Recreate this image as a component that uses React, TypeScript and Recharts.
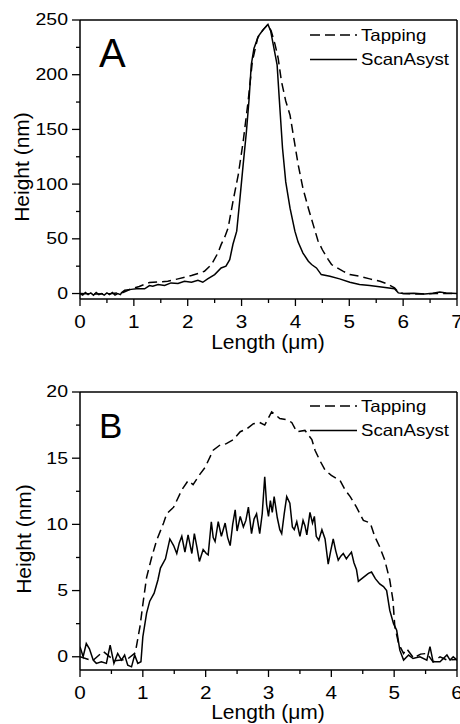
import React from "react";
import { LineChart, Line, XAxis, YAxis, ReferenceLine } from "recharts";

const FONT = '"Liberation Sans", Arial, Helvetica, sans-serif';

// ---- Panel A (0-7 um) ----
const tapAx = [0, 0.3, 0.6, 0.8, 0.95, 1.1, 1.29, 1.45, 1.63, 1.82, 2.07, 2.31, 2.44, 2.56, 2.62, 2.69, 2.75, 2.84, 2.94, 3.03, 3.12, 3.2, 3.3, 3.4, 3.49, 3.55, 3.62, 3.68, 3.74, 3.82, 3.9, 3.98, 4.05, 4.14, 4.24, 4.33, 4.42, 4.5, 4.61, 4.67, 4.89, 5.01, 5.19, 5.38, 5.57, 5.69, 5.84, 5.91, 6.0, 6.3, 6.6, 7.0];
const tapAy = [0, -0.5, 0, 1, 4.3, 6.5, 10, 10.5, 11.2, 13.4, 16.4, 20.3, 26.4, 37, 44.7, 52, 60, 84, 109, 139, 175, 212, 234, 241, 246, 240, 228, 215, 194, 176, 163, 139, 118, 96, 78, 63, 48, 40, 31, 26.5, 20.3, 17.3, 15.8, 13.4, 11.2, 9.1, 5.2, 1.2, 0, -0.5, 0, 0];

const scanAx = [0, 0.05, 0.1, 0.15, 0.2, 0.25, 0.3, 0.35, 0.4, 0.45, 0.5, 0.55, 0.6, 0.65, 0.7, 0.75, 0.77, 0.83, 0.95, 1.05, 1.2, 1.29, 1.35, 1.45, 1.57, 1.69, 1.82, 1.94, 2.07, 2.19, 2.28, 2.37, 2.5, 2.62, 2.71, 2.78, 2.84, 2.91, 2.97, 3.03, 3.09, 3.14, 3.18, 3.23, 3.31, 3.4, 3.49, 3.54, 3.59, 3.66, 3.7, 3.76, 3.82, 3.9, 3.99, 4.05, 4.14, 4.24, 4.3, 4.39, 4.48, 4.64, 4.82, 5.01, 5.19, 5.38, 5.63, 5.84, 5.91, 6.0, 6.2, 6.4, 6.55, 6.68, 6.8, 7.0];
const scanAy = [0, -1.5, 1, -1, 0.5, -1.5, 1, -1, 0, -1.5, 0.5, -1, 1, -1.5, 0, -1, 0.6, 3, 3.8, 4.3, 4.3, 7.3, 6.7, 8.2, 7.3, 9.7, 9.1, 11.2, 10.3, 12.1, 10.3, 13.4, 17.3, 23.4, 25, 31, 45, 57, 87, 118, 148, 178, 209, 224, 235, 241, 246, 240, 227, 209, 178, 133, 102, 78, 57, 47, 37, 29.5, 26.5, 23.4, 17.3, 15.8, 13.4, 10.3, 8.2, 7.3, 5.8, 4.3, 0.6, 0, 0.3, -0.5, 0.3, 1.5, 0.5, 0];

const xTicksA = [0, 0.5, 1, 1.5, 2, 2.5, 3, 3.5, 4, 4.5, 5, 5.5, 6, 6.5, 7];
const yTicksA = [0, 25, 50, 75, 100, 125, 150, 175, 200, 225, 250];

// ---- Panel B (0-6 um) ----
const tapBx = [0, 0.2, 0.37, 0.55, 0.75, 0.88, 0.955, 1.01, 1.06, 1.14, 1.22, 1.33, 1.38, 1.49, 1.62, 1.72, 1.8, 1.91, 1.99, 2.12, 2.23, 2.33, 2.44, 2.55, 2.65, 2.76, 2.86, 2.94, 3.05, 3.18, 3.29, 3.37, 3.45, 3.58, 3.69, 3.74, 3.82, 3.9, 4.0, 4.14, 4.22, 4.3, 4.4, 4.51, 4.62, 4.69, 4.77, 4.85, 4.93, 4.98, 5.01, 5.07, 5.15, 5.2, 5.31, 5.42, 5.52, 5.62, 5.73, 5.84, 6.0];
const tapBy = [0, -0.3, 0.4, -0.3, -0.2, 0.3, 2.3, 4.3, 6.0, 7.5, 8.8, 10.1, 10.8, 11.3, 12.6, 13.3, 13.0, 13.8, 14.3, 15.6, 16.0, 16.1, 16.4, 17.0, 17.2, 17.6, 17.7, 17.5, 18.5, 18.0, 17.9, 17.7, 17.0, 17.1, 16.4, 15.6, 14.8, 14.1, 13.7, 13.3, 12.6, 12.1, 11.3, 10.3, 10.1, 9.1, 8.3, 7.3, 5.8, 4.3, 2.3, 1.0, 0.25, 0.6, -0.1, 0.2, 0.25, -0.4, 0, -0.25, -0.2];

const scanBx = [0, 0.05, 0.1, 0.15, 0.21, 0.26, 0.34, 0.42, 0.48, 0.54, 0.6, 0.66, 0.71, 0.76, 0.82, 0.87, 0.92, 0.97, 1.0, 1.06, 1.11, 1.18, 1.24, 1.28,
  1.36, 1.43, 1.49, 1.54, 1.58, 1.62, 1.67, 1.72, 1.78, 1.82, 1.86, 1.9, 1.96, 2.01, 2.04, 2.09, 2.12, 2.15, 2.2, 2.25, 2.31, 2.35, 2.39, 2.43, 2.47, 2.5, 2.55, 2.6, 2.64, 2.68, 2.73, 2.77, 2.81, 2.86, 2.9, 2.94, 2.97, 3.0, 3.03, 3.06, 3.09, 3.14, 3.18, 3.21, 3.25, 3.29, 3.34, 3.38, 3.41, 3.45, 3.5, 3.55, 3.58, 3.61, 3.66, 3.7, 3.73, 3.76, 3.8, 3.85, 3.9, 3.95, 3.99, 4.03, 4.07, 4.11, 4.15, 4.19, 4.24, 4.27, 4.32, 4.36, 4.4, 4.43,
  4.51, 4.59, 4.64, 4.7, 4.77, 4.83, 4.88, 4.93, 4.99, 5.04, 5.09, 5.15, 5.23, 5.3, 5.41, 5.52, 5.57, 5.62, 5.73, 5.84, 5.89, 5.94, 6.0];
const scanBy = [0.76, 0, 1.0, 0.6, -0.25, -0.5, -0.38, -0.5, 0.88, -0.5, 0.25, -0.25, 0.13, -0.63, -0.76, 0.13, -0.5, -0.38, 1.5, 3.3, 4.2, 4.8, 5.8, 6.7,
  7.4, 8.9, 8.4, 7.8, 8.6, 9.1, 7.9, 9.2, 7.8, 9.3, 8.3, 7.2, 8.1, 7.8, 7.7, 10.2, 9.0, 8.7, 10.2, 9.1, 10.1, 9.0, 8.4, 10.0, 11.1, 9.5, 10.6, 9.8, 10.3, 11.3, 9.3, 10.4, 10.8, 9.3, 10.8, 13.6, 11.5, 10.6, 11.8, 10.9, 12.1, 10.5, 9.6, 9.3, 10.8, 12.1, 11.6, 9.8, 9.6, 10.2, 9.1, 10.3, 9.9, 9.2, 10.9, 10.1, 10.6, 9.1, 8.8, 9.6, 8.9, 7.0, 8.0, 8.9, 8.0, 7.3, 7.6, 7.8, 7.4, 7.6, 7.9, 7.1, 6.6, 5.7,
  6.0, 6.3, 6.4, 5.9, 5.5, 5.3, 5.0, 3.5, 2.5, 2.0, 0.5, -0.25, 0.13, -0.13, 0, -0.25, 0.76, -0.38, -0.38, 0.13, -0.25, 0, -0.25];

const xTicksB = [0, 0.5, 1, 1.5, 2, 2.5, 3, 3.5, 4, 4.5, 5, 5.5, 6];
const yTicksB = [0, 2.5, 5, 7.5, 10, 12.5, 15, 17.5, 20];

const toPts = (xs: number[], ys: number[]) => xs.map((x, i) => ({ x, y: ys[i] }));

const XTick = (props: any) => {
  const { x, y, payload } = props;
  const major = payload.value % 1 === 0;
  return (
    <g>
      <line x1={x} x2={x} y1={y} y2={y + (major ? 7 : 4)} stroke="#000" strokeWidth={1.3} />
      {major && (
        <text
          transform={`translate(${x},${y + 29}) scale(1.15,1)`}
          textAnchor="middle"
          fontSize={18}
          fontFamily={FONT}
          fill="#000"
        >
          {payload.value}
        </text>
      )}
    </g>
  );
};

const makeYTick = (step: number) => (props: any) => {
  const { x, y, payload } = props;
  const major = payload.value % step === 0;
  return (
    <g>
      <line x1={x - (major ? 8 : 4)} x2={x} y1={y} y2={y} stroke="#000" strokeWidth={1.3} />
      {major && (
        <text
          transform={`translate(${x - 12},${y}) scale(1.18,1)`}
          textAnchor="end"
          dominantBaseline="central"
          fontSize={16.5}
          fontFamily={FONT}
          fill="#000"
        >
          {payload.value}
        </text>
      )}
    </g>
  );
};

interface PanelProps {
  letter: string;
  letterSize: number;
  height: number;
  top: number;
  plotTop: number;
  xMax: number;
  yDomain: [number, number];
  xTicks: number[];
  yTicks: number[];
  yStep: number;
  tapping: { x: number; y: number }[];
  scan: { x: number; y: number }[];
  letterY: number;
  legendY: number;
  ylabelX: number;
  ylabelY: number;
  xlabelY: number;
  xAxisH: number;
}

function Panel(p: PanelProps) {
  const axisStyle = { stroke: "#000", strokeWidth: 1.5 };
  return (
    <div style={{ position: "absolute", left: 0, top: p.top, width: 460, height: p.height }}>
      <LineChart width={460} height={p.height} margin={{ top: p.plotTop, right: 3, left: 0, bottom: 0 }}>
        <XAxis
          type="number"
          dataKey="x"
          domain={[0, p.xMax]}
          ticks={p.xTicks}
          interval={0}
          allowDataOverflow
          height={p.xAxisH}
          tickSize={0}
          tickMargin={0}
          tickLine={false}
          axisLine={axisStyle}
          tick={XTick}
        />
        <YAxis
          type="number"
          dataKey="y"
          domain={p.yDomain}
          ticks={p.yTicks}
          interval={0}
          allowDataOverflow
          width={80}
          tickSize={0}
          tickMargin={0}
          tickLine={false}
          axisLine={axisStyle}
          tick={makeYTick(p.yStep)}
        />
        <ReferenceLine y={p.yDomain[1]} stroke="#000" strokeWidth={1.5} />
        <ReferenceLine x={p.xMax} stroke="#000" strokeWidth={1.5} />
        <Line
          data={p.tapping}
          dataKey="y"
          type="linear"
          stroke="#000"
          strokeWidth={1.5}
          strokeDasharray="9 5"
          dot={false}
          activeDot={false}
          isAnimationActive={false}
          name="Tapping"
        />
        <Line
          data={p.scan}
          dataKey="y"
          type="linear"
          stroke="#000"
          strokeWidth={1.5}
          dot={false}
          activeDot={false}
          isAnimationActive={false}
          name="ScanAsyst"
        />
      </LineChart>
      <svg
        width={460}
        height={p.height}
        style={{ position: "absolute", left: 0, top: 0, pointerEvents: "none" }}
        fontFamily={FONT}
      >
        <text x={99} y={p.letterY} fontSize={p.letterSize} fill="#000">
          {p.letter}
        </text>
        <line x1={310} x2={357} y1={p.legendY} y2={p.legendY} stroke="#000" strokeWidth={1.5} strokeDasharray="10 5" />
        <text transform={`translate(361,${p.legendY}) scale(1.13,1)`} dominantBaseline="central" fontSize={16.5} fill="#000">
          Tapping
        </text>
        <line x1={310} x2={357} y1={p.legendY + 24.5} y2={p.legendY + 24.5} stroke="#000" strokeWidth={1.5} />
        <text transform={`translate(361,${p.legendY + 24.5}) scale(1.13,1)`} dominantBaseline="central" fontSize={16.5} fill="#000">
          ScanAsyst
        </text>
        <text
          transform={`translate(${p.ylabelX},${p.ylabelY}) rotate(-90)`}
          textAnchor="middle"
          fontSize={21}
          fill="#000"
        >
          Height (nm)
        </text>
        <text x={268} y={p.xlabelY} textAnchor="middle" fontSize={21} fill="#000">
          Length (μm)
        </text>
      </svg>
    </div>
  );
}

export default function App() {
  return (
    <div
      style={{
        position: "absolute",
        left: 0,
        top: 0,
        width: 460,
        height: 724,
        background: "#fff",
        overflow: "hidden",
      }}
    >
      <Panel
        letter="A"
        letterSize={40}
        height={360}
        top={0}
        plotTop={20}
        xMax={7}
        yDomain={[-5, 250]}
        xTicks={xTicksA}
        yTicks={yTicksA}
        yStep={50}
        tapping={toPts(tapAx, tapAy)}
        scan={toPts(scanAx, scanAy)}
        letterY={67}
        legendY={35}
        ylabelX={29}
        ylabelY={167}
        xlabelY={349}
        xAxisH={61}
      />
      <Panel
        letter="B"
        letterSize={35}
        height={364}
        top={360}
        plotTop={32}
        xMax={6}
        yDomain={[-1, 20]}
        xTicks={xTicksB}
        yTicks={yTicksB}
        yStep={5}
        tapping={toPts(tapBx, tapBy)}
        scan={toPts(scanBx, scanBy)}
        letterY={78}
        legendY={46}
        ylabelX={31}
        ylabelY={179}
        xlabelY={359}
        xAxisH={54}
      />
    </div>
  );
}
